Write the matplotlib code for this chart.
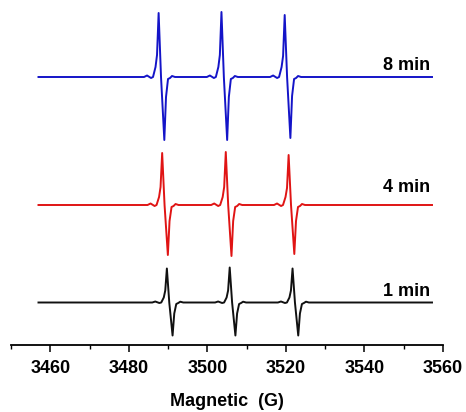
import matplotlib
matplotlib.use("Agg")
import matplotlib.pyplot as plt
import numpy as np
from matplotlib.ticker import MultipleLocator

plt.rcParams['font.family'] = ['Liberation Sans', 'DejaVu Sans']
plt.rcParams['font.weight'] = 'bold'

# field (G) and intensity (relative to each baseline)
field_8min = [3457.0,
              3483.87, 3484.64, 3485.66, 3486.16, 3486.80, 3487.18, 3487.59, 3488.20, 3489.04, 3489.47, 3489.98, 3490.49, 3491.00, 3491.76,
              3499.87, 3500.64, 3501.66, 3502.16, 3502.80, 3503.18, 3503.59, 3504.20, 3505.04, 3505.47, 3505.98, 3506.49, 3507.00, 3507.76,
              3515.97, 3516.74, 3517.76, 3518.26, 3518.90, 3519.28, 3519.69, 3520.30, 3521.14, 3521.57, 3522.08, 3522.59, 3523.10, 3523.86,
              3557.2]
signal_8min = [0,
               0, 1.5, -1, 0, 10, 22, 64, 0, -63, -20, -2, -1, 1, 0,
               0, 1.5, -1, 0, 10, 22, 65, 0, -63, -20, -2, -1, 1, 0,
               0, 1.5, -1, 0, 10, 21, 62, 0, -61, -19, -2, -1, 1, 0,
               0]

field_4min = [3457.0,
              3484.77, 3485.54, 3486.56, 3487.06, 3487.70, 3488.08, 3488.49, 3489.10, 3489.94, 3490.37, 3490.88, 3491.39, 3491.90, 3492.66,
              3500.97, 3501.74, 3502.76, 3503.26, 3503.90, 3504.28, 3504.69, 3505.30, 3506.14, 3506.57, 3507.08, 3507.59, 3508.10, 3508.86,
              3516.97, 3517.74, 3518.76, 3519.26, 3519.90, 3520.28, 3520.69, 3521.30, 3522.14, 3522.57, 3523.08, 3523.59, 3524.10, 3524.86,
              3557.2]
signal_4min = [0,
               0, 1.5, -1, 0, 8, 18, 52, 0, -50, -16, -2, -1, 1, 0,
               0, 1.5, -1, 0, 8, 18, 53, 0, -51, -16, -2, -1, 1, 0,
               0, 1.5, -1, 0, 8, 17, 50, 0, -49, -16, -2, -1, 1, 0,
               0]

field_1min = [3457.0,
              3485.97, 3486.74, 3487.76, 3488.26, 3488.90, 3489.28, 3489.69, 3490.30, 3491.14, 3491.57, 3492.08, 3492.59, 3493.10, 3493.86,
              3501.97, 3502.74, 3503.76, 3504.26, 3504.90, 3505.28, 3505.69, 3506.30, 3507.14, 3507.57, 3508.08, 3508.59, 3509.10, 3509.86,
              3517.97, 3518.74, 3519.76, 3520.26, 3520.90, 3521.28, 3521.69, 3522.30, 3523.14, 3523.57, 3524.08, 3524.59, 3525.10, 3525.86,
              3557.2]
signal_1min = [0,
               0, 1, -0.5, 0, 5, 12, 34, 0, -33, -11, -1.5, -0.5, 0.8, 0,
               0, 1, -0.5, 0, 5, 12, 35, 0, -33, -11, -1.5, -0.5, 0.8, 0,
               0, 1, -0.5, 0, 5, 12, 34, 0, -33, -11, -1.5, -0.5, 0.8, 0,
               0]

labels = ["1 min", "4 min", "8 min"]
colors = ["#111111", "#e01414", "#1414c8"]
offsets = [42.5, 140, 268]
label_y = [48.5, 152.5, 274.5]

fig = plt.figure(figsize=(4.66, 4.12), dpi=100)
ax = fig.add_axes([11/466, 67/412, 432/466, 345/412])

series = [(field_1min, signal_1min), (field_4min, signal_4min), (field_8min, signal_8min)]
for (f, s), lab, c, off, ly in zip(series, labels, colors, offsets, label_y):
    ax.plot(f, np.array(s) + off, color=c, lw=1.4, solid_joinstyle='round')
    ax.text(3556.8, ly, lab, ha='right', va='baseline', fontsize=13, fontweight='bold')

ax.set_xlim(3450, 3560)
ax.set_ylim(0, 345)
for sp in ['top', 'left', 'right']:
    ax.spines[sp].set_visible(False)
ax.spines['bottom'].set_linewidth(1.3)
ax.set_yticks([])
ax.xaxis.set_major_locator(MultipleLocator(20))
ax.xaxis.set_minor_locator(MultipleLocator(10))
ax.tick_params(axis='x', which='major', length=5, width=1.1, direction='out', labelsize=13, pad=6)
ax.tick_params(axis='x', which='minor', length=3, width=1.0, direction='out')
for t in ax.get_xticklabels():
    t.set_fontweight('bold')
ax.set_xlabel("Magnetic  (G)", fontsize=13, fontweight='bold', labelpad=11)

fig.savefig("out.png", dpi=100)
